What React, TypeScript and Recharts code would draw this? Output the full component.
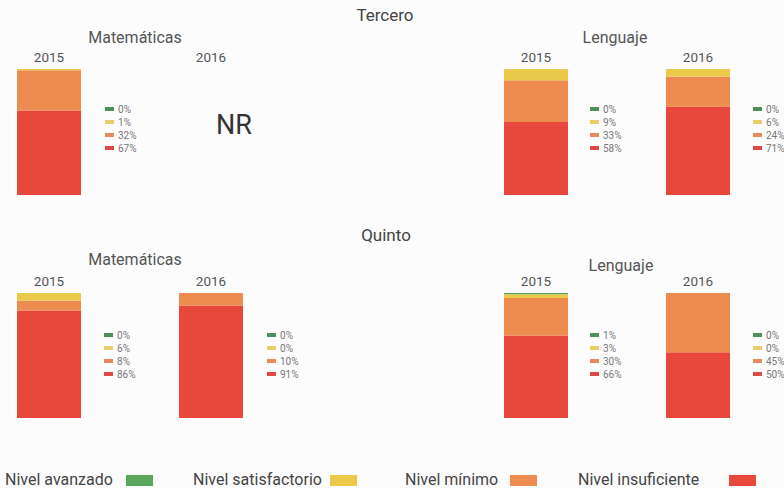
import { BarChart, Bar, XAxis, YAxis } from 'recharts';

const years = ['2015', '2016'];
const levelKeys = ['avanzado', 'satisfactorio', 'minimo', 'insuficiente'];
const levelNames = ['Nivel avanzado', 'Nivel satisfactorio', 'Nivel mínimo', 'Nivel insuficiente'];
const barColors = ['#5aa65c', '#ebc94b', '#ee8c4f', '#e8473c'];
const dashColors = ['#4f8f5b', '#e6cf6a', '#e98a5c', '#dd4a45'];

// percentages in order: avanzado, satisfactorio, minimo, insuficiente
const terceroMat2015 = [0, 1, 32, 67];
const terceroMat2016: number[] | null = null; // NR
const terceroLen2015 = [0, 9, 33, 58];
const terceroLen2016 = [0, 6, 24, 71];
const quintoMat2015 = [0, 6, 8, 86];
const quintoMat2016 = [0, 0, 10, 91];
const quintoLen2015 = [1, 3, 30, 66];
const quintoLen2016 = [0, 0, 45, 50];

const FONT = 'Roboto, "Liberation Sans", sans-serif';

function toRow(year: string, vals: number[] | null) {
  const row: Record<string, string | number> = { year };
  levelKeys.forEach((k, i) => {
    row[k] = vals ? vals[i] : 0;
  });
  return row;
}

function Label({ x, y, text, size, weight = 400, color = '#555' }: { x: number; y: number; text: string; size: number; weight?: number; color?: string }) {
  return (
    <div
      style={{
        position: 'absolute',
        left: x,
        top: y,
        transform: 'translate(-50%, -50%)',
        fontSize: size,
        fontWeight: weight,
        color,
        whiteSpace: 'nowrap',
        fontFamily: FONT,
      }}
    >
      {text}
    </div>
  );
}

function MiniLegend({ x, y, vals }: { x: number; y: number; vals: number[] }) {
  return (
    <>
      {vals.map((v, i) => (
        <div
          key={i}
          style={{
            position: 'absolute',
            left: x,
            top: y + i * 13 - 6,
            height: 12,
            display: 'flex',
            alignItems: 'center',
            fontSize: 10,
            color: '#777',
            fontFamily: FONT,
            whiteSpace: 'nowrap',
          }}
        >
          <span style={{ width: 9, height: 4, background: dashColors[i], marginRight: 4 }} />
          {v}%
        </div>
      ))}
    </>
  );
}

function Panel({ left, top, height, a, b }: { left: number; top: number; height: number; a: number[]; b: number[] | null }) {
  const data = [toRow(years[0], a), toRow(years[1], b)];
  return (
    <div style={{ position: 'absolute', left, top }}>
      <BarChart
        width={324}
        height={height}
        data={data}
        margin={{ top: 0, right: 0, bottom: 0, left: 0 }}
        barSize={64}
        stackOffset="expand"
      >
        <XAxis
          dataKey="year"
          orientation="top"
          axisLine={false}
          tickLine={false}
          tickSize={0}
          tickMargin={7}
          height={24}
          interval={0}
          tick={{ fontSize: 13.5, fill: '#555', fontFamily: FONT }}
        />
        <YAxis hide domain={[0, 1]} />
        {[...levelKeys].reverse().map((k) => {
          const i = levelKeys.indexOf(k);
          return (
            <Bar key={k} dataKey={k} stackId="s" fill={barColors[i]} isAnimationActive={false} />
          );
        })}
      </BarChart>
    </div>
  );
}

export default function App() {
  const legendTextX = [5, 193, 405, 578];
  const legendSwatchX = [126, 330, 510, 729];
  return (
    <div
      style={{
        position: 'absolute',
        left: 0,
        top: 0,
        width: 784,
        height: 489,
        overflow: 'hidden',
        background: '#fcfcfd',
        fontFamily: FONT,
      }}
    >
      <Label x={385} y={15} text="Tercero" size={17} color="#444" />
      <Label x={386} y={235} text="Quinto" size={17} color="#444" />

      <Label x={135} y={37} text="Matemáticas" size={16} />
      <Label x={615} y={37} text="Lenguaje" size={16} />
      <Label x={135} y={259} text="Matemáticas" size={16} />
      <Label x={621} y={265} text="Lenguaje" size={16} />

      <Panel left={-32} top={45} height={150} a={terceroMat2015} b={terceroMat2016} />
      <Panel left={455} top={45} height={150} a={terceroLen2015} b={terceroLen2016} />
      <Panel left={-32} top={269} height={149} a={quintoMat2015} b={quintoMat2016} />
      <Panel left={455} top={269} height={149} a={quintoLen2015} b={quintoLen2016} />

      <MiniLegend x={105} y={109} vals={terceroMat2015} />
      {terceroMat2016 ? (
        <MiniLegend x={267} y={109} vals={terceroMat2016} />
      ) : (
        <Label x={234} y={125} text="NR" size={27} color="#333" />
      )}
      <MiniLegend x={590} y={109} vals={terceroLen2015} />
      <MiniLegend x={753} y={109} vals={terceroLen2016} />
      <MiniLegend x={104} y={335} vals={quintoMat2015} />
      <MiniLegend x={267} y={335} vals={quintoMat2016} />
      <MiniLegend x={590} y={335} vals={quintoLen2015} />
      <MiniLegend x={753} y={335} vals={quintoLen2016} />

      {levelNames.map((name, i) => (
        <div key={name}>
          <div
            style={{
              position: 'absolute',
              left: legendTextX[i],
              top: 470,
              fontSize: 16,
              color: '#444',
              whiteSpace: 'nowrap',
              lineHeight: '20px',
            }}
          >
            {name}
          </div>
          <div
            style={{
              position: 'absolute',
              left: legendSwatchX[i],
              top: 475,
              width: 27,
              height: 11,
              background: barColors[i],
            }}
          />
        </div>
      ))}
    </div>
  );
}
